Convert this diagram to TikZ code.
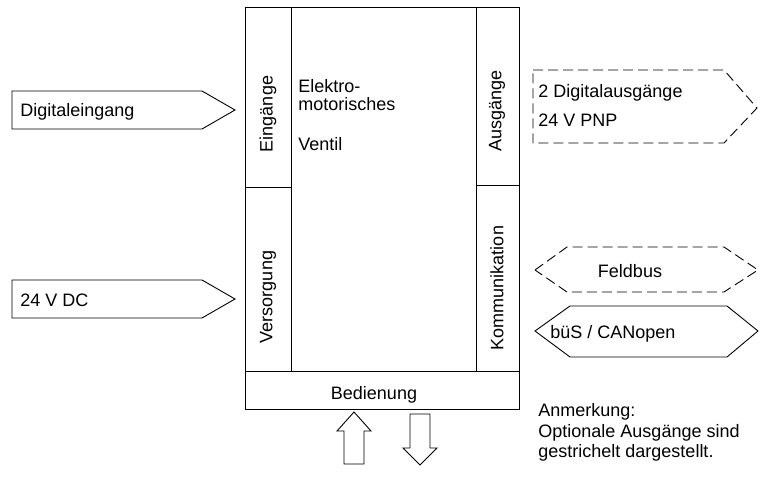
\documentclass[tikz,border=0pt]{standalone}
\usepackage{fontspec}
\setmainfont{Liberation Sans}
\begin{document}
\begin{tikzpicture}[x=1pt,y=-1pt,line width=0.9pt,
    every node/.style={font=\fontsize{18}{22}\selectfont,inner sep=0pt},
    optline/.style={dash pattern=on 10pt off 5pt}]
    \useasboundingbox (0,0) rectangle (763,478);
    \coordinate (tl) at (245,7);
    \coordinate (br) at (519,409);
    \draw (tl) rectangle (br);
    \draw (245,371) -- (519,371);
    \draw (291,7) -- (291,371);
    \draw (476,7) -- (476,371);
    \draw (245,187) -- (291,187);
    \draw (476,185) -- (519,185);
    % inputs
    \draw (12,91) -- (202,91) -- (235,110) -- (202,129) -- (12,129) -- cycle;
    \draw (12,280) -- (202,280) -- (235,299) -- (202,318) -- (12,318) -- cycle;
    % outputs
    \draw[optline] (533,70) -- (724,70) -- (757,108) -- (724,143) -- (533,143) -- cycle;
    \draw[optline] (535,270) -- (567,247) -- (724,247) -- (758,270) -- (724,292) -- (567,292) -- cycle;
    \draw (535,331) -- (570,306) -- (727,306) -- (758,331) -- (727,357) -- (570,357) -- cycle;
    % operation
    \draw (354,412) -- (371,431) -- (364,431) -- (364,464) -- (344,464) -- (344,431) -- (337,431) -- cycle;
    \draw (420,465) -- (437,448) -- (430,448) -- (430,414) -- (410,414) -- (410,448) -- (403,448) -- cycle;
    % texts
    \node[anchor=base west] (din) at (20,117) {Digitaleingang};
    \node[anchor=base west] (dc) at (20,307) {24 V DC};
    \node[anchor=base west] (dout) at (538,98) {2 Digitalausgänge};
    \node[anchor=base west] (pnp) at (538,127) {24 V PNP};
    \node[anchor=base] (fb) at (630,278) {Feldbus};
    \node[anchor=base west] (bus) at (550,338) {büS / CANopen};
    \node[anchor=base west] (el) at (298,93) {Elektro-};
    \node[anchor=base west] (mot) at (298,111) {motorisches};
    \node[anchor=base west] (ven) at (298,151) {Ventil};
    \node[anchor=base] (bed) at (374,399) {Bedienung};
    \node[rotate=90] (ein) at (268,114) {Eingänge};
    \node[rotate=90] (aus) at (497,111) {Ausgänge};
    \node[rotate=90] (ver) at (268,297) {Versorgung};
    \node[rotate=90] (kom) at (497,288) {Kommunikation};
    \node[anchor=base west] (n1) at (538,416) {Anmerkung:};
    \node[anchor=base west] (n2) at (538,437) {Optionale Ausgänge sind};
    \node[anchor=base west] (n3) at (538,457) {gestrichelt dargestellt.};
\end{tikzpicture}
\end{document}
